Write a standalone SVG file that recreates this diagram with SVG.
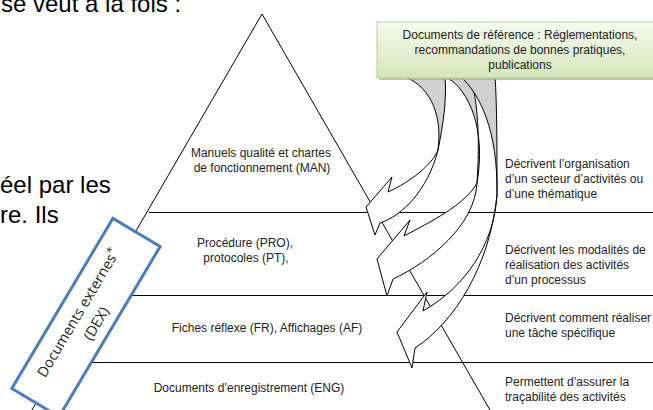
<svg xmlns="http://www.w3.org/2000/svg" width="653" height="410" viewBox="0 0 653 410">
<defs>
<linearGradient id="gb" x1="0" y1="0" x2="0" y2="1">
<stop offset="0" stop-color="#f6faf0"/>
<stop offset="1" stop-color="#d4e6b9"/>
</linearGradient>
<style>
.big{font-family:"Liberation Sans",Arial,sans-serif;font-size:24px;fill:#000}
.lbl{font-family:"Liberation Sans",Arial,sans-serif;font-size:12px;fill:#222}
.mid{text-anchor:middle}
.ln{stroke:#000;stroke-width:1;fill:none}
.back{fill:#d0d0d0;stroke:#000;stroke-width:1;stroke-linejoin:round}
.front{fill:#fff;stroke:#000;stroke-width:1;stroke-linejoin:miter}
.dex{font-family:"Open Sans","Liberation Sans",sans-serif;font-size:14.5px;fill:#222;text-anchor:middle}
</style>
</defs>
<rect width="653" height="410" fill="#fff"/>

<g id="bodytext">
<text class="big" x="1" y="12" font-size="25px">se veut à la fois :</text>
<text class="big" x="0" y="193">éel par les</text>
<text class="big" x="0" y="223">re. Ils</text>
</g>

<g id="pyramid">
<polyline class="ln" points="32,410 262,14 490,410"/>
<line class="ln" x1="149" y1="212.5" x2="653" y2="212.5"/>
<line class="ln" x1="100" y1="295.5" x2="653" y2="295.5"/>
<line class="ln" x1="60" y1="362.5" x2="653" y2="362.5"/>
</g>

<g id="level-man">
<text class="lbl mid" x="261" y="157">Manuels qualité et chartes</text>
<text class="lbl mid" x="262" y="172">de fonctionnement (MAN)</text>
</g>
<g id="level-pro">
<text class="lbl mid" x="245" y="247">Procédure (PRO),</text>
<text class="lbl mid" x="246" y="262">protocoles (PT),</text>
</g>
<g id="level-fr">
<text class="lbl mid" x="267" y="332">Fiches réflexe (FR), Affichages (AF)</text>
</g>
<g id="level-eng">
<text class="lbl mid" x="249" y="392">Documents d’enregistrement (ENG)</text>
</g>

<g id="desc-man">
<text class="lbl" x="505" y="168">Décrivent l’organisation</text>
<text class="lbl" x="505" y="183">d’un secteur d’activités ou</text>
<text class="lbl" x="505" y="198">d’une thématique</text>
</g>
<g id="desc-pro">
<text class="lbl" x="505" y="254">Décrivent les modalités de</text>
<text class="lbl" x="505" y="269">réalisation des activités</text>
<text class="lbl" x="505" y="284">d’un processus</text>
</g>
<g id="desc-fr">
<text class="lbl" x="505" y="322">Décrivent comment réaliser</text>
<text class="lbl" x="505" y="337">une tâche spécifique</text>
</g>
<g id="desc-eng">
<text class="lbl" x="505" y="386">Permettent d’assurer la</text>
<text class="lbl" x="505" y="401">traçabilité des activités</text>
</g>

<g id="connectors">
<g id="arrow-b">
<path class="back" d="M445,76 C470,90 486,130 477,183 C480,140 478,100 470,76 Z"/>
<path class="front" d="M477,183 C465,205 430,222 404,236 L410,220 L377,259 L387,296 L393,279 C430,262 475,225 477,183 Z"/>
</g>
<g id="arrow-c">
<path class="back" d="M460,76 C480,94 498,130 497,195 C497,150 497,105 495,76 Z"/>
<path class="front" d="M497,195 C494,245 465,287 423,311 L427,292 L397,332 L412,368 L415,348 C455,322 490,265 497,195 Z"/>
</g>
<g id="arrow-a">
<path class="back" d="M402,76 C428,84 443,112 438,150 C443,125 447,100 445,76 Z"/>
<path class="front" d="M438,150 C432,165 410,182 388,192 L392,177 L366,207 L375,235 L380,223 C402,216 428,190 438,150 Z"/>
</g>
</g>

<g id="ref-docs">
<rect x="379" y="24" width="290" height="56" fill="#a3b28b" opacity="0.7"/>
<rect x="377" y="22" width="290" height="56" fill="url(#gb)" stroke="#bcd196" stroke-width="1"/>
<text class="lbl mid" x="520" y="39">Documents de référence : Réglementations,</text>
<text class="lbl mid" x="520" y="54">recommandations de bonnes pratiques,</text>
<text class="lbl mid" x="520" y="69">publications</text>
</g>

<g id="dex" transform="translate(86,317.5) rotate(-59.3)">
<rect x="-99" y="-27.5" width="198" height="55" fill="#fff" stroke="#4a7ebb" stroke-width="3"/>
<text class="dex" x="0" y="-4">Documents externes<tspan dy="-5" font-size="11px">*</tspan></text>
<text class="dex" x="0" y="17">(DEX)</text>
</g>
</svg>
